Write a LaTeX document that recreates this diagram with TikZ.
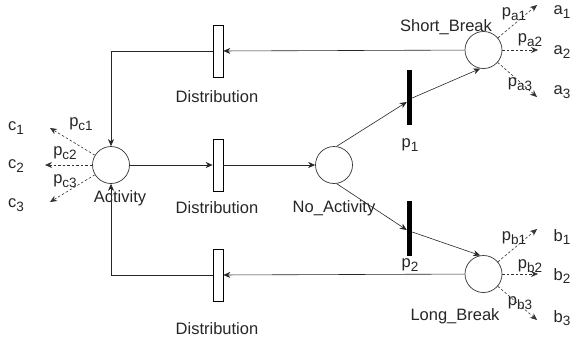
\documentclass[tikz,border=0pt]{standalone}
\usepackage{fontspec}
\setmainfont{Liberation Sans}
\usetikzlibrary{arrows.meta}
\newcommand\subx[1]{\raisebox{-0.4ex}{\fontsize{13.5}{13.5}\selectfont #1}}
\begin{document}
\begin{tikzpicture}[x=1pt,y=-1pt,
  every node/.style={font=\fontsize{16.5}{16.5}\selectfont, inner sep=0pt, text=black!85},
  place/.style={draw, circle, minimum size=37pt, line width=0.7pt, draw=black!80},
  trans/.style={draw, rectangle, minimum width=10pt, minimum height=52pt, line width=0.7pt},
  bar/.style={fill=black, rectangle, minimum width=5pt, minimum height=55pt},
  arr/.style={-{Stealth[length=7pt,width=6pt]}, line width=0.6pt, draw=black!85},
  darr/.style={-{Stealth[length=7pt,width=6pt]}, line width=0.6pt, dashed, dash pattern=on 2.5pt off 2pt, draw=black!80}]
\useasboundingbox (0,0) rectangle (578,340);
% places
\node[place] (act) at (111,165) {};
\node[place] (na) at (334,165) {};
\node[place] (sb) at (483.5,50) {};
\node[place] (lb) at (483.5,274) {};
% transitions
\node[trans] (dt) at (218,51) {};
\node[trans] (dm) at (218,165) {};
\node[trans] (db) at (218,275) {};
\node[bar] (p1) at (409.5,97) {};
\node[bar] (p2) at (409.5,228) {};
% corner coordinates
\coordinate (ct) at (111,51);
\coordinate (cb) at (111,275);
% labels
\node at (217,97) {Distribution};
\node at (217,208) {Distribution};
\node at (217,329) {Distribution};
\node at (120,198) {Activity};
\node at (334,208) {No\_Activity};
\node at (446,27) {Short\_Break};
\node at (455,316) {Long\_Break};
\node at (410,145) {p\subx{1}};
\node at (410,265) {p\subx{2}};
% main arcs
\draw[arr] (act) -- (dm);
\draw[arr] (dm) -- (na);
\draw[arr] (na.82) -- (p1.west |- 0,102);
\draw[arr] (p1.east |- 0,98) -- (sb.260);
\draw[arr] (na.-82) -- (p2.west |- 0,230);
\draw[arr] (p2.east |- 0,232) -- (lb.100);
\draw[arr] (sb) -- (dt);
\draw[arr] (lb) -- (db);
\draw[arr] (dt) -- (ct) -- (act);
\draw[arr] (db) -- (cb) -- (act);
% dashed outputs of Activity
\coordinate (c1t) at (50,128);
\coordinate (c2t) at (45,165);
\coordinate (c3t) at (50,202);
\draw[darr] (act) -- (c1t);
\draw[darr] (act) -- (c2t);
\draw[darr] (act) -- (c3t);
\node at (81,124) {p\subx{c1}};
\node at (65,153) {p\subx{c2}};
\node at (65,181) {p\subx{c3}};
\node at (16,128) {c\subx{1}};
\node at (16,166) {c\subx{2}};
\node at (16,205) {c\subx{3}};
% dashed outputs of Short_Break
\coordinate (a1t) at (537,5);
\coordinate (a2t) at (538,50);
\coordinate (a3t) at (537,97);
\draw[darr] (sb) -- (a1t);
\draw[darr] (sb) -- (a2t);
\draw[darr] (sb) -- (a3t);
\node at (514,14) {p\subx{a1}};
\node at (530,40) {p\subx{a2}};
\node at (520,84) {p\subx{a3}};
\node at (562,12) {a\subx{1}};
\node at (562,52) {a\subx{2}};
\node at (562,92) {a\subx{3}};
% dashed outputs of Long_Break
\coordinate (b1t) at (537,229);
\coordinate (b2t) at (538,274);
\coordinate (b3t) at (537,320);
\draw[darr] (lb) -- (b1t);
\draw[darr] (lb) -- (b2t);
\draw[darr] (lb) -- (b3t);
\node at (514,238) {p\subx{b1}};
\node at (530,266) {p\subx{b2}};
\node at (520,303) {p\subx{b3}};
\node at (562,237) {b\subx{1}};
\node at (562,276) {b\subx{2}};
\node at (562,318) {b\subx{3}};
\end{tikzpicture}
\end{document}
